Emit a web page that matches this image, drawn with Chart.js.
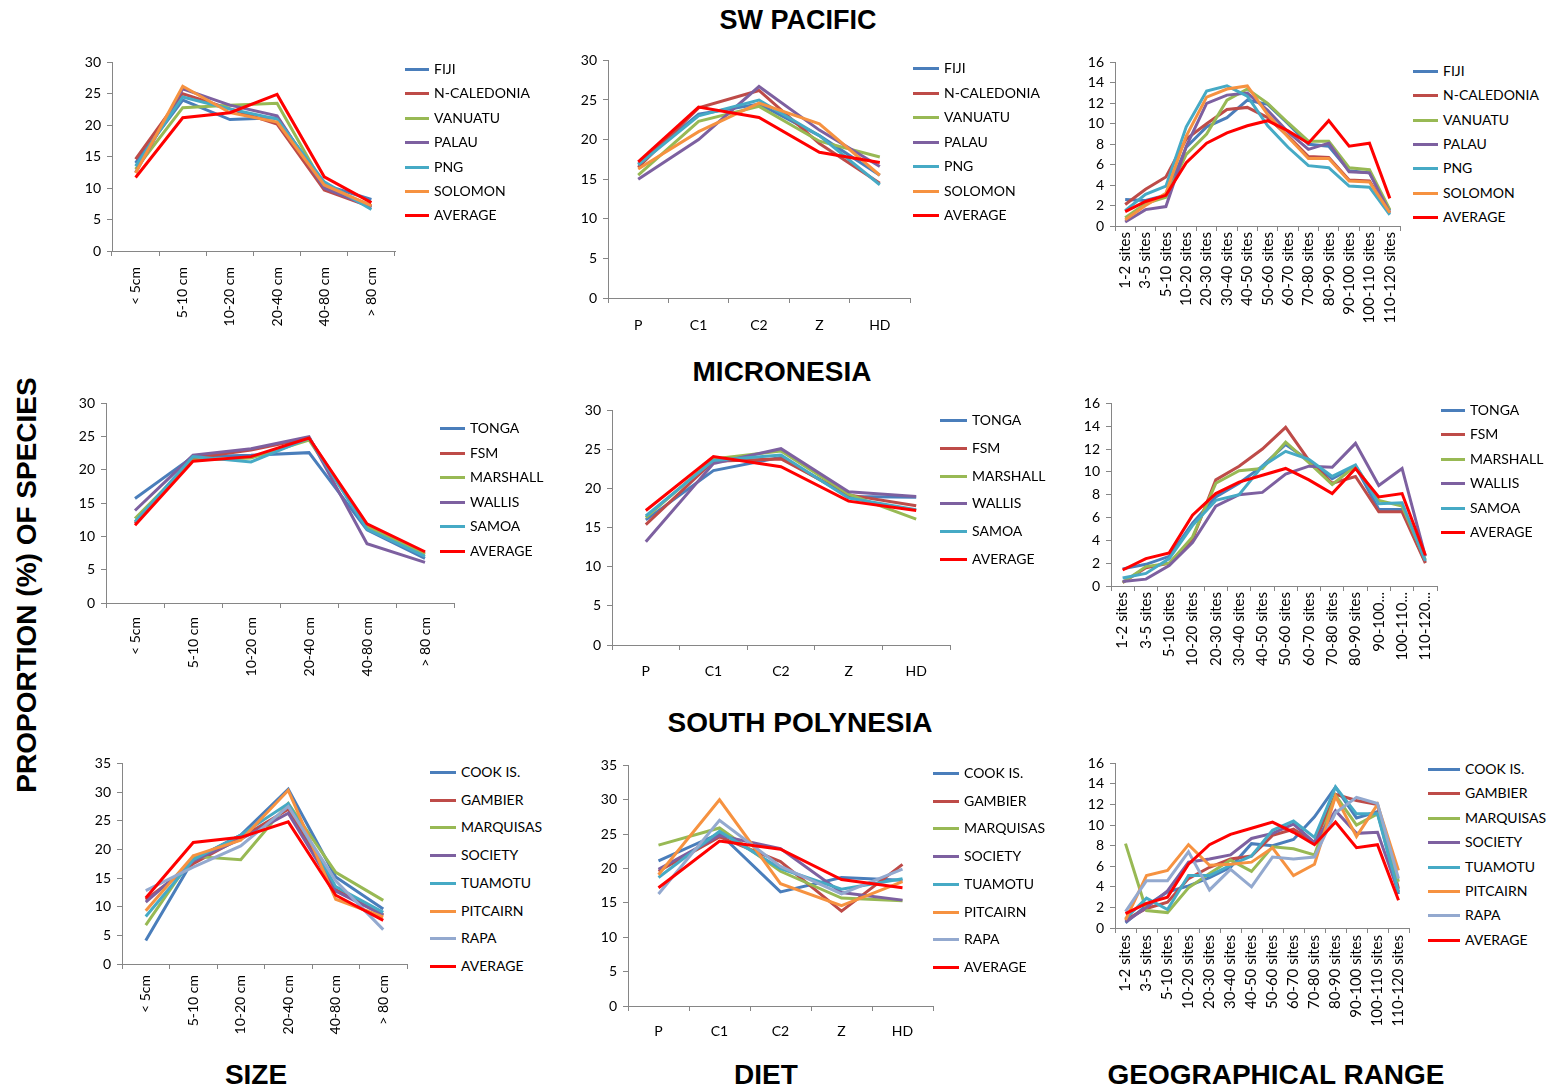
<!DOCTYPE html>
<html>
<head>
<meta charset="utf-8">
<script src="https://cdn.jsdelivr.net/npm/chart.js@4.4.1/dist/chart.umd.min.js"></script>
<style>
  body { margin: 0; background: #fff; }
  #page { position: relative; width: 1551px; height: 1090px; overflow: hidden; font-family: Lato, "Open Sans", sans-serif; }
  .title { position: absolute; transform: translate(-50%, -50%); font: bold 28px "Liberation Sans", Arial, sans-serif; white-space: nowrap; color: #000; }
  .ytitle { transform: translate(-50%, -50%) rotate(-90deg); }
  .leg { position: absolute; font-size: 14px; color: #000; white-space: nowrap; line-height: 16px; }
  .leg span { position: absolute; height: 3px; }
  canvas { position: absolute; }
</style>
</head>
<body>
<div id="page">
  <div class="title" style="left:798px;top:20px;font-size:27px">SW PACIFIC</div>
  <div class="title" style="left:782px;top:372px">MICRONESIA</div>
  <div class="title" style="left:800px;top:723px">SOUTH POLYNESIA</div>
  <div class="title" style="left:256px;top:1075px">SIZE</div>
  <div class="title" style="left:766px;top:1075px">DIET</div>
  <div class="title" style="left:1276px;top:1075px">GEOGRAPHICAL RANGE</div>
  <div class="title ytitle" style="left:27px;top:585px">PROPORTION (%) OF SPECIES</div>
</div>
<script>
// category labels
const sizeLabels = ['< 5cm', '5-10 cm', '10-20 cm', '20-40 cm', '40-80 cm', '> 80 cm'];
const dietLabels = ['P', 'C1', 'C2', 'Z', 'HD'];
const geoLabels = ['1-2 sites', '3-5 sites', '5-10 sites', '10-20 sites', '20-30 sites', '30-40 sites', '40-50 sites',
  '50-60 sites', '60-70 sites', '70-80 sites', '80-90 sites', '90-100 sites', '100-110 sites', '110-120 sites'];
const geoLabelsShort = ['1-2 sites', '3-5 sites', '5-10 sites', '10-20 sites', '20-30 sites', '30-40 sites', '40-50 sites',
  '50-60 sites', '60-70 sites', '70-80 sites', '80-90 sites', '90-100...', '100-110...', '110-120...'];

// series names
const swpNames = ['FIJI', 'N-CALEDONIA', 'VANUATU', 'PALAU', 'PNG', 'SOLOMON', 'AVERAGE'];
const micNames = ['TONGA', 'FSM', 'MARSHALL', 'WALLIS', 'SAMOA', 'AVERAGE'];
const spNames = ['COOK IS.', 'GAMBIER', 'MARQUISAS', 'SOCIETY', 'TUAMOTU', 'PITCAIRN', 'RAPA', 'AVERAGE'];

// SW pacific (one row per series, same order as swpNames)
const swpSize = [
  [14.0, 24.0, 20.9, 21.2, 10.5, 8.2],
  [14.6, 25.0, 22.6, 20.2, 9.7, 7.0],
  [13.0, 22.8, 23.2, 23.5, 10.3, 7.2],
  [12.5, 25.8, 23.2, 21.5, 10.0, 7.0],
  [13.5, 24.5, 22.6, 21.0, 11.0, 6.6],
  [12.4, 26.2, 22.0, 20.5, 10.5, 7.2],
  [11.7, 21.2, 22.0, 24.9, 11.8, 7.7]
];
const swpDiet = [
  [16.9, 23.2, 24.5, 20.5, 15.5],
  [16.5, 24.0, 26.2, 19.5, 14.5],
  [15.5, 22.3, 24.2, 19.8, 17.8],
  [15.0, 20.0, 26.7, 21.2, 16.6],
  [16.8, 23.0, 25.0, 20.5, 14.3],
  [16.3, 21.0, 24.6, 22.0, 15.5],
  [17.2, 24.1, 22.8, 18.4, 17.1]
];
const swpGeo = [
  [2.6, 2.5, 3.0, 7.7, 9.7, 10.6, 12.3, 11.9, 10.0, 8.0, 7.8, 5.4, 5.2, 1.5],
  [2.1, 3.6, 4.8, 8.5, 10.0, 11.4, 11.6, 10.6, 8.8, 6.8, 6.7, 4.5, 4.4, 1.3],
  [0.8, 2.2, 2.8, 7.0, 9.0, 12.3, 13.4, 12.0, 10.1, 8.3, 8.3, 5.7, 5.5, 1.6],
  [0.4, 1.6, 1.9, 7.8, 12.0, 12.8, 13.0, 11.3, 9.2, 7.5, 8.1, 5.3, 5.2, 1.3],
  [1.5, 3.1, 3.9, 9.7, 13.2, 13.7, 12.7, 9.8, 7.7, 5.9, 5.7, 3.9, 3.8, 1.1],
  [0.6, 2.0, 3.2, 8.8, 12.6, 13.4, 13.7, 10.9, 8.7, 6.6, 6.6, 4.4, 4.3, 1.3],
  [1.4, 2.4, 3.0, 6.2, 8.1, 9.1, 9.8, 10.3, 9.3, 8.1, 10.3, 7.8, 8.1, 2.7]
];

// micronesia
const micSize = [
  [15.7, 22.0, 22.2, 22.6, 11.0, 6.7],
  [12.0, 21.8, 23.0, 24.8, 11.5, 7.5],
  [12.7, 21.5, 21.8, 24.5, 11.5, 7.3],
  [13.9, 22.2, 23.2, 25.0, 8.9, 6.1],
  [12.2, 22.0, 21.2, 24.8, 11.1, 7.0],
  [11.7, 21.3, 22.0, 24.8, 11.9, 7.7]
];
const micDiet = [
  [16.0, 22.3, 24.0, 19.0, 18.9],
  [15.4, 23.5, 23.8, 19.2, 17.8],
  [16.3, 23.8, 24.8, 19.3, 16.1],
  [13.2, 23.2, 25.1, 19.6, 19.0],
  [16.5, 23.6, 24.3, 18.8, 17.3],
  [17.2, 24.1, 22.8, 18.4, 17.2]
];
const micGeo = [
  [1.5, 1.9, 2.6, 5.5, 7.8, 9.0, 10.5, 12.4, 11.0, 9.4, 10.5, 6.7, 6.7, 2.1],
  [0.3, 1.6, 2.0, 4.1, 9.3, 10.5, 12.0, 13.9, 11.0, 9.0, 9.6, 6.5, 6.5, 2.0],
  [0.3, 1.7, 2.0, 4.3, 9.0, 10.1, 10.3, 12.6, 10.8, 8.9, 10.5, 7.5, 7.0, 2.3],
  [0.4, 0.6, 1.8, 3.8, 7.0, 8.0, 8.2, 9.8, 10.5, 10.4, 12.5, 8.8, 10.3, 2.6],
  [0.7, 1.1, 2.4, 5.3, 7.5, 8.0, 10.5, 11.8, 11.1, 9.6, 10.6, 7.2, 7.3, 2.2],
  [1.4, 2.4, 2.9, 6.2, 8.1, 9.1, 9.7, 10.3, 9.3, 8.1, 10.3, 7.8, 8.1, 2.7]
];

// south polynesia
const spSize = [
  [4.1, 18.2, 22.5, 30.5, 15.2, 9.6],
  [11.2, 17.5, 22.0, 27.0, 13.0, 8.6],
  [6.8, 18.8, 18.2, 28.0, 16.0, 11.1],
  [10.8, 18.0, 21.8, 26.3, 12.7, 8.5],
  [8.3, 18.2, 22.5, 28.0, 13.5, 9.0],
  [9.3, 18.9, 21.6, 30.3, 11.3, 8.2],
  [12.8, 16.9, 20.6, 27.5, 14.5, 6.0],
  [11.5, 21.2, 22.1, 24.8, 12.0, 7.6]
];
const spDiet = [
  [21.1, 25.1, 16.6, 18.7, 18.3],
  [19.6, 24.6, 21.0, 13.8, 20.6],
  [23.4, 25.9, 19.6, 15.7, 15.3],
  [19.9, 24.8, 22.9, 16.5, 15.4],
  [18.7, 25.4, 20.0, 17.0, 18.5],
  [19.1, 30.0, 17.8, 14.6, 18.1],
  [16.3, 27.0, 20.3, 16.3, 19.9],
  [17.2, 24.0, 22.8, 18.4, 17.2]
];
const spGeo = [
  [0.5, 2.2, 3.5, 4.1, 4.9, 5.9, 8.2, 8.0, 8.6, 10.8, 13.7, 10.7, 11.3, 3.3],
  [0.8, 1.9, 2.5, 4.8, 5.9, 6.7, 7.0, 9.0, 9.6, 8.3, 13.0, 12.4, 12.0, 3.8],
  [8.2, 1.7, 1.5, 3.9, 5.3, 6.6, 5.5, 7.9, 7.7, 7.1, 12.9, 10.0, 11.1, 4.5],
  [0.6, 2.0, 3.6, 6.4, 6.7, 7.1, 8.7, 9.2, 10.1, 8.3, 11.4, 9.2, 9.3, 3.5],
  [0.9, 2.9, 1.8, 5.1, 5.1, 6.1, 7.0, 9.5, 10.4, 8.8, 13.7, 11.1, 11.1, 3.5],
  [0.8, 5.1, 5.6, 8.1, 6.1, 6.2, 6.4, 7.8, 5.1, 6.2, 12.8, 8.9, 12.0, 5.6],
  [1.6, 4.6, 4.6, 7.4, 3.7, 5.7, 4.0, 6.9, 6.7, 6.9, 11.2, 12.7, 12.1, 4.8],
  [1.4, 2.4, 3.0, 6.2, 8.1, 9.1, 9.7, 10.3, 9.3, 8.1, 10.3, 7.8, 8.1, 2.7]
];

// excel-ish line colours
const swpColors = ['#4A7EBB', '#BE4B48', '#98B954', '#7D60A0', '#46AAC5', '#F69240', '#FF0000'];
const micColors = ['#4A7EBB', '#BE4B48', '#98B954', '#7D60A0', '#46AAC5', '#FF0000'];
const spColors = ['#4A7EBB', '#BE4B48', '#98B954', '#7D60A0', '#46AAC5', '#F69240', '#93A9CF', '#FF0000'];

// plot box [left, top, right, bottom] of each panel, legend [markerX, textX, firstY, step]
const panels = [
  { names: swpNames, colors: swpColors, labels: sizeLabels, data: swpSize, max: 30, step: 5, box: [112, 62, 395, 251], rot: 90, pad: 11, fs: 14, leg: [405, 434, 69, 24.4] },
  { names: swpNames, colors: swpColors, labels: dietLabels, data: swpDiet, max: 30, step: 5, box: [608, 60, 910, 298], rot: 0, pad: 14, fs: 14, leg: [913, 944, 68, 24.5] },
  { names: swpNames, colors: swpColors, labels: geoLabels, data: swpGeo, max: 16, step: 2, box: [1115, 62, 1400, 226], rot: 90, pad: 1, fs: 15, leg: [1413, 1443, 71, 24.3] },
  { names: micNames, colors: micColors, labels: sizeLabels, data: micSize, max: 30, step: 5, box: [106, 403, 454, 603], rot: 90, pad: 9, fs: 14, leg: [440, 470, 428, 24.6] },
  { names: micNames, colors: micColors, labels: dietLabels, data: micDiet, max: 30, step: 5, box: [612, 410, 950, 645], rot: 0, pad: 13, fs: 14, leg: [940, 972, 420, 27.8] },
  { names: micNames, colors: micColors, labels: geoLabelsShort, data: micGeo, max: 16, step: 2, box: [1111, 403, 1437, 586], rot: 90, pad: 1, fs: 15, leg: [1441, 1470, 410, 24.4] },
  { names: spNames, colors: spColors, labels: sizeLabels, data: spSize, max: 35, step: 5, box: [122, 763, 407, 964], rot: 90, pad: 6, fs: 14, leg: [430, 461, 772, 27.7] },
  { names: spNames, colors: spColors, labels: dietLabels, data: spDiet, max: 35, step: 5, box: [628, 765, 933, 1006], rot: 0, pad: 12, fs: 14, leg: [933, 964, 773, 27.7] },
  { names: spNames, colors: spColors, labels: geoLabels, data: spGeo, max: 16, step: 2, box: [1115, 763, 1409, 928], rot: 90, pad: 2, fs: 15, leg: [1428, 1465, 769, 24.4] }
];

const page = document.getElementById('page');
const axisGrey = '#868686';
const YW = 40, TOP = 12, RIGHT = 12;

function makeChart(canvas, p, xH) {
  // last series drawn on top, like excel
  var n = p.names.length;
  var datasets = p.names.map(function (name, i) {
    return {
      label: name,
      data: p.data[i],
      borderColor: p.colors[i],
      backgroundColor: p.colors[i],
      borderWidth: 3,
      pointRadius: 0,
      tension: 0,
      order: n - i
    };
  });
  return new Chart(canvas.getContext('2d'), {
    type: 'line',
    data: { labels: p.labels, datasets: datasets },
    options: {
      responsive: false,
      maintainAspectRatio: false,
      animation: false,
      layout: { padding: { top: TOP, right: RIGHT, bottom: 0, left: 0 } },
      plugins: { legend: { display: false }, tooltip: { enabled: false } },
      scales: {
        x: {
          offset: true,
          grid: { offset: true, drawOnChartArea: false, tickLength: 5, color: axisGrey },
          border: { color: axisGrey },
          ticks: { autoSkip: false, minRotation: p.rot, maxRotation: p.rot, padding: p.pad, font: { family: 'Lato', size: p.fs }, color: '#000' },
          afterFit: function (s) { s.height = xH; }
        },
        y: {
          min: 0,
          max: p.max,
          grid: { drawOnChartArea: false, tickLength: 5, color: axisGrey },
          border: { color: axisGrey },
          ticks: { stepSize: p.step, padding: 6, font: { family: 'Lato', size: 14 }, color: '#000' },
          afterFit: function (s) { s.width = YW; }
        }
      }
    }
  });
}

panels.forEach(function (p) {
  var L = p.box[0], T = p.box[1], R = p.box[2], B = p.box[3];
  var xH = p.rot ? 120 : 40;
  var w = YW + (R - L) + RIGHT;
  var h = TOP + (B - T) + xH;

  // first pass to see how big the plot area really comes out
  var probe = document.createElement('canvas');
  probe.width = w; probe.height = h;
  page.appendChild(probe);
  var c0 = makeChart(probe, p, xH);
  var ca0 = c0.chartArea;
  w += (R - L) - (ca0.right - ca0.left);
  h += (B - T) - (ca0.bottom - ca0.top);
  c0.destroy();
  page.removeChild(probe);

  var canvas = document.createElement('canvas');
  canvas.width = w; canvas.height = h;
  page.appendChild(canvas);
  var chart = makeChart(canvas, p, xH);
  var ca = chart.chartArea;
  canvas.style.left = (L - ca.left) + 'px';
  canvas.style.top = (T - ca.top) + 'px';

  // legend built from the same names / colours
  p.names.forEach(function (name, i) {
    var y = p.leg[2] + i * p.leg[3];
    var item = document.createElement('div');
    item.className = 'leg';
    item.style.left = p.leg[0] + 'px';
    item.style.top = (y - 8) + 'px';
    item.style.paddingLeft = (p.leg[1] - p.leg[0]) + 'px';
    var mark = document.createElement('span');
    mark.style.left = '0px';
    mark.style.top = '7px';
    mark.style.width = (p.leg[1] - p.leg[0] - 5) + 'px';
    mark.style.background = p.colors[i];
    item.appendChild(mark);
    item.appendChild(document.createTextNode(name));
    page.appendChild(item);
  });
});
</script>
</body>
</html>
